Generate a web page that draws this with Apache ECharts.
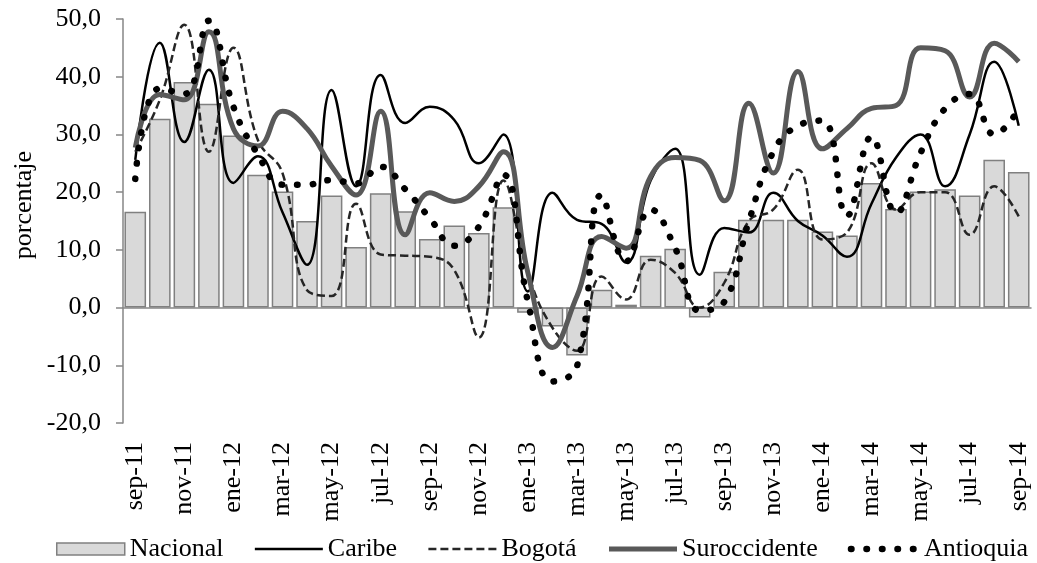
<!DOCTYPE html>
<html>
<head>
<meta charset="utf-8">
<script src="https://cdn.jsdelivr.net/npm/echarts@6/dist/echarts.min.js"></script>
<style>
  html, body { margin: 0; padding: 0; background: #fff; }
  #chart { width: 1037px; height: 563px; }
</style>
</head>
<body>
<div id="chart"></div>
<script>
const months = [
  "sep-11", "oct-11", "nov-11", "dic-11", "ene-12", "feb-12", "mar-12", "abr-12", "may-12", "jun-12",
  "jul-12", "ago-12", "sep-12", "oct-12", "nov-12", "dic-12", "ene-13", "feb-13", "mar-13", "abr-13",
  "may-13", "jun-13", "jul-13", "ago-13", "sep-13", "oct-13", "nov-13", "dic-13", "ene-14", "feb-14",
  "mar-14", "abr-14", "may-14", "jun-14", "jul-14", "ago-14", "sep-14"
];

const nacional = [
  16.6, 32.7, 39.1, 35.3, 29.8, 23.0, 20.1, 15.0, 19.4, 10.5,
  19.8, 16.7, 11.9, 14.2, 12.9, 17.4, -0.9, -3.3, -8.3, 3.1,
  0.5, 9.0, 10.2, -1.7, 6.2, 15.2, 15.2, 15.2, 13.2, 12.5,
  21.6, 17.1, 20.1, 20.5, 19.4, 25.6, 23.5
];

const caribe = [
  25.6, 45.9, 28.7, 41.2, 21.6, 26.2, 16.5, 7.4, 37.7, 21.0,
  40.3, 32.0, 34.8, 32.5, 25.0, 30.0, 2.8, 19.9, 15.2, 14.5,
  7.8, 22.0, 27.5, 5.7, 13.8, 13.0, 19.9, 15.0, 12.5, 8.8,
  18.0, 26.0, 30.0, 21.0, 30.0, 42.6, 31.5
];

const bogota = [
  27.0, 36.0, 49.0, 27.0, 45.0, 29.0, 23.3, 3.0, 2.0, 18.0,
  9.2, 9.0, 8.8, 6.5, -5.2, 22.0, 6.0, -3.5, -7.5, 5.4,
  1.4, 8.3, 6.0, 0.0, 4.3, 15.0, 17.0, 23.9, 11.8, 13.0,
  25.0, 17.0, 20.0, 20.0, 12.6, 21.0, 15.8
];

const suroccidente = [
  27.7, 36.9, 36.0, 47.8, 31.0, 28.0, 34.0, 31.0, 24.5, 19.5,
  34.0, 12.6, 19.9, 18.4, 21.0, 27.0, 6.0, -6.9, 2.0, 12.3,
  10.3, 22.7, 26.0, 25.5, 18.5, 35.4, 23.3, 40.9, 27.5, 31.0,
  34.5, 35.0, 45.0, 44.5, 36.5, 45.8, 42.6
];

const antioquia = [
  22.3, 38.0, 37.0, 49.7, 34.8, 26.5, 21.3, 21.3, 22.1, 21.5,
  24.4, 20.5, 15.5, 10.7, 14.0, 23.0, 1.0, -12.8, -10.2, 19.5,
  8.0, 17.0, 10.3, -0.5, 1.0, 14.9, 27.0, 31.5, 32.4, 15.9,
  29.6, 16.4, 26.8, 34.5, 37.0, 30.0, 34.4
];

const yTicks = { min: -20, max: 50, step: 10 };

const font = "'Liberation Serif', 'Times New Roman', serif";
const fontSize = 26;
const axisGray = "#868686";

const grid = { left: 123, right: 6, top: 19, bottom: 140 };
const plotHeight = 563 - grid.top - grid.bottom;
// the category line sits on the 0 of the value axis, its labels stay at the bottom
const zeroOffset = -plotHeight * (0 - yTicks.min) / (yTicks.max - yTicks.min);

const chart = echarts.init(document.getElementById("chart"), null, { renderer: "canvas" });

function lineSeries(name, data, style) {
  return {
    name: name,
    type: "line",
    data: data,
    smooth: 0.45,
    symbol: "none",
    color: style.color,
    z: 3,
    lineStyle: style
  };
}

// legend entries only show the line, hide the symbol echarts adds
function lineLegend(name, style) {
  return { name: name, lineStyle: style, itemStyle: { opacity: 0, color: "rgba(0,0,0,0)", borderWidth: 0 } };
}

const caribeStyle = { color: "#000000", width: 2.5 };
const bogotaStyle = { color: "#262626", width: 2.5, type: [8, 4] };
const surStyle = { color: "#595959", width: 5 };
const antStyle = { color: "#000000", width: 6.5, type: [0.5, 15], cap: "round" };

chart.setOption({
  animation: false,
  backgroundColor: "#ffffff",
  textStyle: { fontFamily: font, color: "#000" },
  grid: Object.assign({ outerBoundsMode: "none", containLabel: false }, grid),
  legend: {
    top: 536,
    left: 56,
    width: 980,
    padding: 0,
    itemWidth: 68,
    itemHeight: 12,
    itemGap: 30,
    textStyle: { fontFamily: font, fontSize: fontSize, color: "#000" },
    data: [
      { name: "Nacional", icon: "rect", itemStyle: { color: "#d9d9d9", borderColor: "#808080", borderWidth: 1.5 } },
      lineLegend("Caribe", caribeStyle),
      lineLegend("Bogotá", bogotaStyle),
      lineLegend("Suroccidente", surStyle),
      lineLegend("Antioquia", antStyle)
    ]
  },
  graphic: [{
    type: "text",
    x: 24,
    y: 205,
    rotation: Math.PI / 2,
    style: {
      text: "porcentaje",
      font: fontSize + "px " + font,
      fill: "#000",
      align: "center",
      verticalAlign: "middle"
    }
  }],
  xAxis: [
    {
      type: "category",
      data: months,
      position: "bottom",
      offset: zeroOffset,
      boundaryGap: true,
      axisLine: { onZero: false, lineStyle: { color: axisGray, width: 1.5 } },
      axisTick: { interval: 1, length: 8, lineStyle: { color: axisGray, width: 1.5 } },
      axisLabel: { show: false },
      splitLine: { show: false }
    },
    {
      type: "category",
      data: months,
      position: "bottom",
      boundaryGap: true,
      axisLine: { show: false, onZero: false },
      axisTick: { show: false },
      axisLabel: { interval: 1, rotate: 90, margin: 19, fontSize: fontSize, color: "#000", fontFamily: font },
      splitLine: { show: false }
    }
  ],
  yAxis: {
    type: "value",
    min: yTicks.min,
    max: yTicks.max,
    interval: yTicks.step,
    axisLine: { show: true, lineStyle: { color: axisGray, width: 1.5 } },
    axisTick: { show: true, length: 7, lineStyle: { color: axisGray, width: 1.5 } },
    axisLabel: {
      margin: 22,
      fontSize: fontSize,
      color: "#000",
      fontFamily: font,
      formatter: v => v.toFixed(1).replace(".", ",")
    },
    splitLine: { show: false }
  },
  series: [
    {
      name: "Nacional",
      type: "bar",
      data: nacional,
      barCategoryGap: "12%",
      z: 2,
      itemStyle: { color: "#d9d9d9", borderColor: "#808080", borderWidth: 1.5 }
    },
    lineSeries("Caribe", caribe, caribeStyle),
    lineSeries("Bogotá", bogota, bogotaStyle),
    lineSeries("Suroccidente", suroccidente, surStyle),
    lineSeries("Antioquia", antioquia, antStyle)
  ]
});
</script>
</body>
</html>
